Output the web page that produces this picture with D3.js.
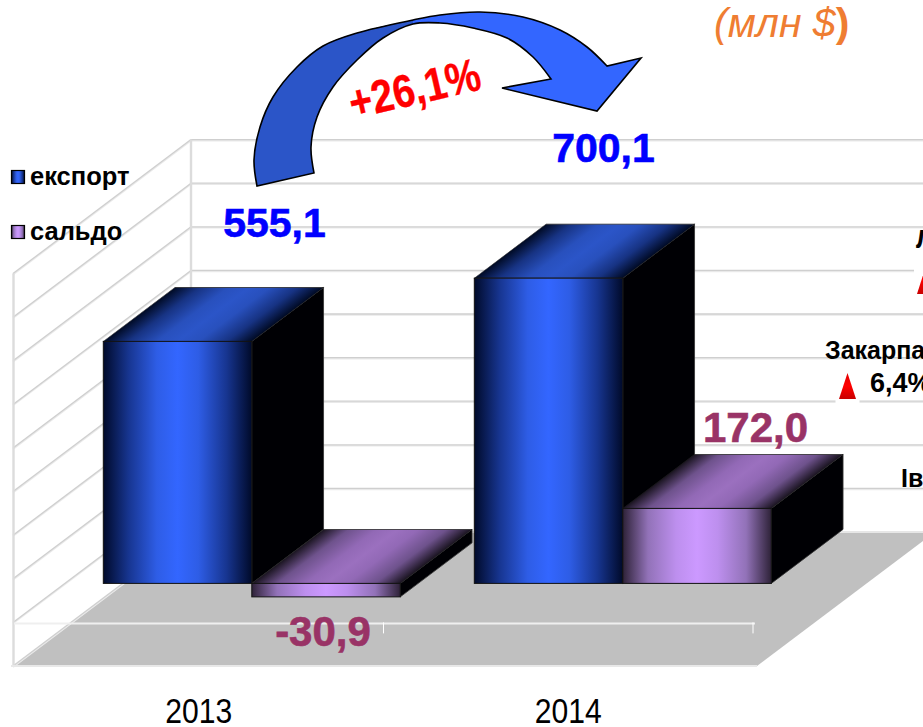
<!DOCTYPE html>
<html><head><meta charset="utf-8">
<script src="https://cdn.jsdelivr.net/npm/d3@7"></script>
<style>html,body{margin:0;padding:0;background:#fff;overflow:hidden}svg{display:block}text{font-family:"Liberation Sans",Arial,sans-serif}</style>
</head><body><svg id="c" width="923" height="727"></svg>
<script>
const categories = ["2013","2014"];
const seriesNames = ["експорт","сальдо"];
const exportValues = [555.1,700.1];
const saldoValues = [-30.9,172.0];
const exportLabels = ["555,1","700,1"];
const saldoLabels = ["-30,9","172,0"];
const gridTicks = [-100,0,100,200,300,400,500,600,700,800];

const W=923,H=727;
const svg=d3.select("#c");
const defs=svg.append("defs");
function hGrad(id,stops){
  const g=defs.append("linearGradient").attr("id",id).attr("x1",0).attr("x2",1).attr("y1",0).attr("y2",0);
  const o=[0,.17,.36,.5,.64,.83,1];
  stops.concat(stops.slice(0,3).reverse()).forEach((c,i)=>g.append("stop").attr("offset",o[i]).attr("stop-color",c));
}
hGrad("expFront",["#000a2a","#173590","#2e5de6","#3366ff"]);
hGrad("expTop",["#000a24","#173383","#2850bd","#2b55c8"]);
hGrad("salFront",["#2e2238","#9272b8","#bd8fee","#cc99ff"]);
hGrad("salTop",["#1a1420","#6e528c","#9269b6","#9b70bf"]);
const tg=defs.append("linearGradient").attr("id","tri").attr("x1",0).attr("x2",0).attr("y1",0).attr("y2",1);
[[0,"#e00000"],[.5,"#ff0000"],[1,"#c80000"]].forEach(s=>tg.append("stop").attr("offset",s[0]).attr("stop-color",s[1]));
defs.append("clipPath").attr("id","arrowLeft").append("rect").attr("x",0).attr("y",0).attr("width",413).attr("height",H);

// projection
const y=d3.scaleLinear().domain([-100,800]).range([666,273.6]);
const x0=d3.scaleBand().domain(categories).range([14,753]);
const xBar=d3.scaleBand().domain(categories).range([15,757]);
const x1=d3.scaleBand().domain(seriesNames).range([36.5,xBar.bandwidth()-37.5]);
const DX=178,DY=-134;
const barNear=39/134, barFar=93/134;
const P=(x,v,d)=>[x+DX*d,y(v)+DY*d];
const poly=pts=>pts.map(p=>p.join(",")).join(" ");

// walls + floor
svg.append("polygon").attr("points",poly([P(15,-100,0),P(757,-100,0),P(757,-100,1),P(15,-100,1)])).attr("fill","#c0c0c0");
const grid=svg.append("g");
function gl(x1_,y1_,x2_,y2_){
  grid.append("line").attr("x1",x1_).attr("y1",y1_+1).attr("x2",x2_).attr("y2",y2_+1).attr("stroke","#e9e9e9").attr("stroke-width",1.6);
  grid.append("line").attr("x1",x1_).attr("y1",y1_).attr("x2",x2_).attr("y2",y2_).attr("stroke","#cfcfcf").attr("stroke-width",1.3);
}
gridTicks.forEach(t=>{
  const b=P(13,t,1), f=P(13,t,0);
  if(t>-100) gl(b[0],b[1],W+2,b[1]);
  gl(f[0],f[1],b[0],b[1]);
});
grid.append("line").attr("x1",13.5).attr("x2",13.5).attr("y1",y(800)).attr("y2",y(-100)).attr("stroke","#dcdcdc").attr("stroke-width",2.4);
grid.append("line").attr("x1",13+DX).attr("x2",13+DX).attr("y1",y(800)+DY).attr("y2",y(-100)+DY).attr("stroke","#dcdcdc").attr("stroke-width",2.4);
grid.append("line").attr("x1",P(13,-100,1)[0]).attr("x2",W+2).attr("y1",y(-100)+DY).attr("y2",y(-100)+DY).attr("stroke","#e6e6e6").attr("stroke-width",2);
// floor edges
svg.append("line").attr("x1",11).attr("x2",757).attr("y1",y(-100)).attr("y2",y(-100)).attr("stroke","#e8e8e8").attr("stroke-width",2);
svg.append("line").attr("x1",14).attr("x2",755).attr("y1",y(0)+1).attr("y2",y(0)+1).attr("stroke","#efefef").attr("stroke-width",2);
x0.domain().forEach(c=>{
  const tx=x0(c)+x0.bandwidth();
  svg.append("line").attr("x1",tx).attr("x2",tx).attr("y1",y(0)).attr("y2",y(0)+11).attr("stroke","#fff").attr("stroke-width",1);
});

// bars
function bar(c,s,v,front,top){
  const xa=xBar(c)+x1(s), xb=xa+x1.bandwidth();
  const v0=Math.max(v,0), v1=Math.min(v,0);
  const g=svg.append("g");
  const a=P(xa,v0,barNear), b=P(xb,v0,barNear), bb=P(xb,v1,barNear);
  const af=P(xa,v0,barFar), bf=P(xb,v0,barFar), bbf=P(xb,v1,barFar);
  g.append("polygon").attr("points",poly([b,bf,bbf,bb])).attr("fill","#000004").attr("stroke","#333").attr("stroke-width",.8);
  const w=b[0]-a[0], h=a[1]-af[1], sk=(af[0]-a[0])/h;
  g.append("rect").attr("width",w).attr("height",h)
    .attr("transform",`matrix(1,0,${-sk},1,${af[0]},${af[1]})`)
    .attr("fill",`url(#${top})`).attr("stroke","#222").attr("stroke-width",.7);
  g.append("rect").attr("x",a[0]).attr("y",a[1]).attr("width",w).attr("height",bb[1]-a[1])
    .attr("fill",`url(#${front})`).attr("stroke","#111").attr("stroke-width",1);
}
categories.forEach((c,i)=>{
  bar(c,seriesNames[0],exportValues[i],"expFront","expTop");
  bar(c,seriesNames[1],saldoValues[i],"salFront","salTop");
});

// category labels
svg.selectAll(".cat").data(categories).join("text").attr("class","cat")
  .attr("transform",c=>`translate(${x0(c)+x0.bandwidth()/2},723) scale(.86,1)`).attr("text-anchor","middle")
  .attr("font-size",35).attr("fill","#000").text(c=>c);

// value labels
const lab=(t,x,yy,fs,col)=>svg.append("text").attr("x",x).attr("y",yy).attr("font-size",fs).attr("font-weight","bold").attr("fill",col).attr("stroke",col).attr("stroke-width",.6).attr("text-anchor","middle").text(t);
lab(exportLabels[0],274.5,237,41,"#0000ff");
lab(exportLabels[1],603.5,162,41,"#0000ff");
lab(saldoLabels[0],323,646,42,"#993366");
lab(saldoLabels[1],755.5,442,42,"#993366");

// arrow
const curve=d3.line().curve(d3.curveCatmullRom.alpha(.5));
const outerEdge=[[257,186],[254,160],[260,127],[273,97],[297,67],[323,46],[357,33],[413,20],[440,15],[480,12],[523,17],[560,30],[587,47],[607,66]];
const innerEdge=[[551,79],[533,57],[507,38],[473,28],[440,23],[413,24],[383,38],[357,60],[333,87],[317,117],[311,147],[314,173]];
const head="L641,58L597,111L502,88L";
const arrowD=curve(outerEdge)+head+curve(innerEdge).slice(1)+"Z";
svg.append("path").attr("d",arrowD).attr("fill","#3366ff");
svg.append("path").attr("d",arrowD).attr("fill","#2b55c8").attr("clip-path","url(#arrowLeft)");
svg.append("path").attr("d",arrowD).attr("fill","none").attr("stroke","#000").attr("stroke-width",1.6);
svg.append("text").attr("transform","translate(353,119) rotate(-13) scale(.85,1)").attr("font-size",46).attr("font-weight","bold").attr("fill","#ff0000").attr("stroke","#ff0000").attr("stroke-width",.4).text("+26,1%");

// legend
seriesNames.forEach((n,i)=>{
  const ly=[170,225][i];
  svg.append("rect").attr("x",11.5).attr("y",ly+.5).attr("width",13).attr("height",13).attr("fill",i?"url(#salFront)":"url(#expFront)").attr("stroke","#000").attr("stroke-width",1.2);
  svg.append("text").attr("x",30).attr("y",ly+15).attr("font-size",25.5).attr("font-weight","bold").attr("fill","#000").text(n);
});

// unit
const u=svg.append("text").attr("x",714).attr("y",37).attr("font-size",41).attr("fill","#ef7d32");
u.append("tspan").attr("font-style","italic").text("(млн $");
u.append("tspan").attr("font-weight","bold").text(")");

// partially visible side annotations
const side=(t,x,yy,fs)=>svg.append("text").attr("x",x).attr("y",yy).attr("font-size",fs).attr("font-weight","bold").attr("fill","#000").text(t);
const tri=(cx,top,bot,hw)=>{
  svg.append("rect").attr("x",cx-12).attr("y",top-3).attr("width",24).attr("height",bot-top+12).attr("fill","#fff");
  svg.append("polygon").attr("points",`${cx},${top} ${cx+hw},${bot} ${cx-hw},${bot}`).attr("fill","url(#tri)");
};
tri(847.5,373,399,8.5);
tri(926,266,294,9);
side("Л",916,248,25);
side("Закарпа",825,359,25);
side("6,4%",870,392,27);
side("Ів",901,487,25);
</script></body></html>
